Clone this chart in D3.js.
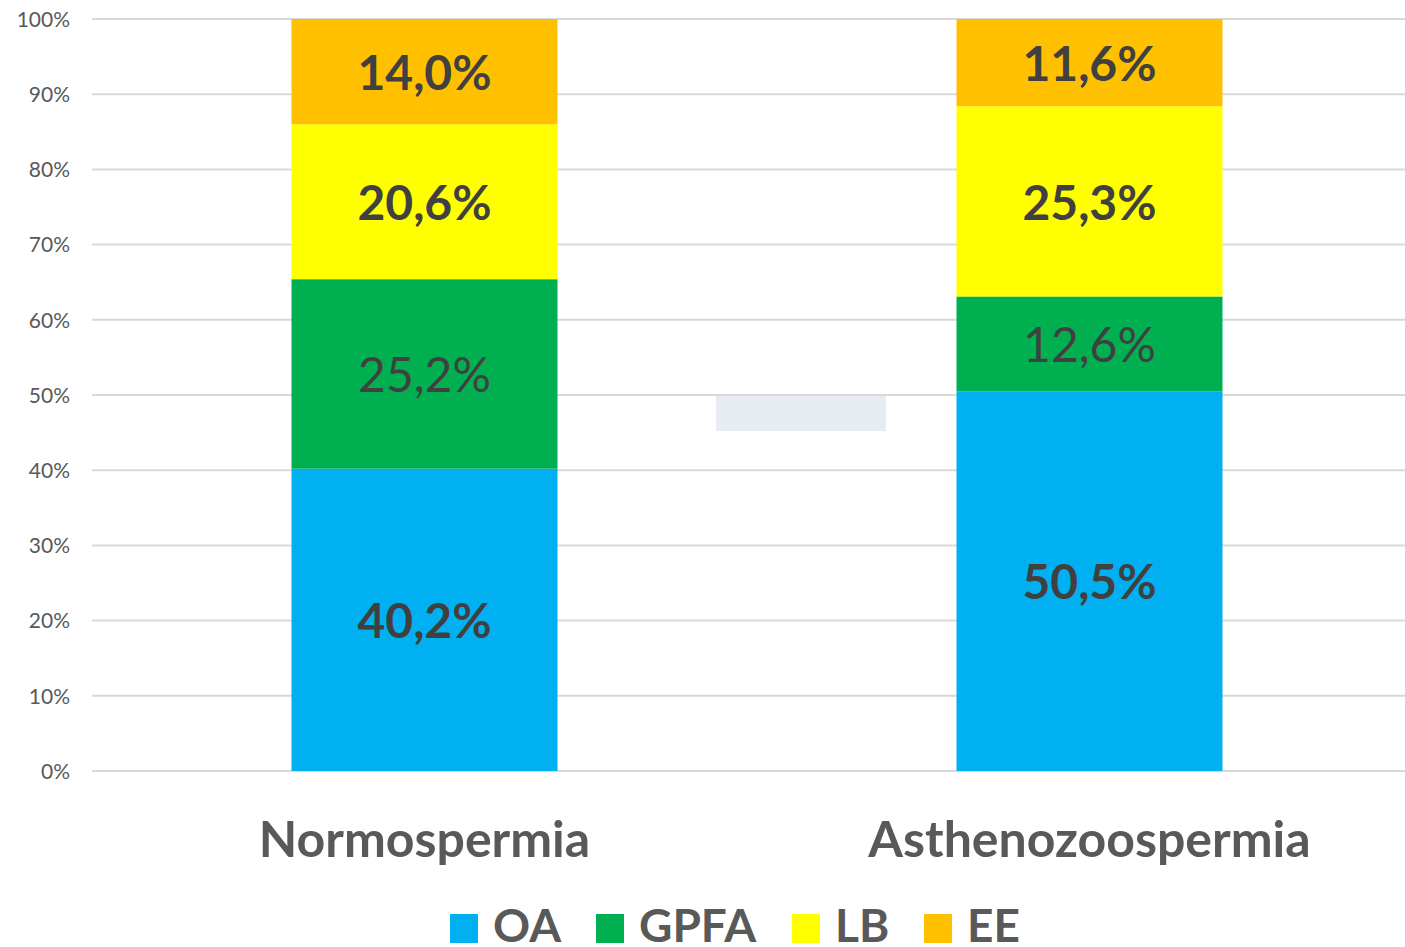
<!DOCTYPE html>
<html>
<head>
<meta charset="utf-8">
<script src="https://cdn.jsdelivr.net/npm/d3@7"></script>
<style>
  html, body { margin: 0; padding: 0; background: #fff; }
  svg { display: block; }
  text { font-family: Lato, "Open Sans", sans-serif; }
</style>
</head>
<body>
<svg id="chart" width="1405" height="947"></svg>
<script>
// Sperm groups on the x axis
const categories = ["Normospermia", "Asthenozoospermia"];
// Stacked series, bottom to top (percent of total)
const seriesNames = ["OA", "GPFA", "LB", "EE"];
const oaValues   = [40.2, 50.5];
const gpfaValues = [25.2, 12.6];
const lbValues   = [20.6, 25.3];
const eeValues   = [14.0, 11.6];
const seriesColors = ["#00B0F0", "#00B050", "#FFFF00", "#FFC000"];
const labelBold = [true, false, true, true];
const yTicks = [0, 10, 20, 30, 40, 50, 60, 70, 80, 90, 100];

const rows = categories.map((c, i) => ({
  category: c,
  OA: oaValues[i], GPFA: gpfaValues[i], LB: lbValues[i], EE: eeValues[i]
}));

const svg = d3.select("#chart");
const plotLeft = 92, plotRight = 1422, plotTop = 19, plotBottom = 771;

const x = d3.scaleBand().domain(categories).range([plotLeft, plotRight])
  .paddingInner(0.6).paddingOuter(0.3);
const y = d3.scaleLinear().domain([0, 100]).range([plotBottom, plotTop]);

// Gridlines
svg.append("g").selectAll("line").data(yTicks).join("line")
  .attr("x1", plotLeft).attr("x2", 1405)
  .attr("y1", d => y(d)).attr("y2", d => y(d))
  .attr("stroke", "#D9D9D9").attr("stroke-width", 2);

// Y axis tick labels
const yAxis = d3.axisLeft(y).tickValues(yTicks).tickFormat(d => d + "%").tickSize(0).tickPadding(0);
const yg = svg.append("g").attr("transform", `translate(70,0)`).call(yAxis);
yg.select(".domain").remove();
yg.selectAll("text")
  .attr("fill", "#595959").attr("font-size", 21)
  .attr("font-family", "Lato, sans-serif").attr("dy", "0.35em");

// Stacked bars
const stacked = d3.stack().keys(seriesNames)(rows);

const layers = svg.append("g").selectAll("g").data(stacked).join("g")
  .attr("fill", (d, i) => seriesColors[i]);

layers.selectAll("rect").data(d => d).join("rect")
  .attr("x", d => x(d.data.category))
  .attr("width", x.bandwidth())
  .attr("y", d => y(d[1]))
  .attr("height", d => y(d[0]) - y(d[1]));

// Value labels centred in each segment
const fmt = v => v.toFixed(1).replace(".", ",") + "%";
svg.append("g").selectAll("g").data(stacked).join("g")
  .each(function(layer, li) {
    d3.select(this).selectAll("text").data(layer).join("text")
      .attr("x", d => x(d.data.category) + x.bandwidth() / 2)
      .attr("y", d => y((d[0] + d[1]) / 2))
      .attr("dy", "0.38em")
      .attr("text-anchor", "middle")
      .attr("font-size", 48)
      .attr("font-weight", labelBold[li] ? 700 : 400)
      .attr("fill", "#404040")
      .text(d => fmt(d[1] - d[0]));
  });

// Category labels
const xAxis = d3.axisBottom(x).tickSize(0).tickPadding(0);
const xg = svg.append("g").attr("transform", `translate(0,857)`).call(xAxis);
xg.select(".domain").remove();
xg.selectAll("text")
  .attr("dy", 0).attr("y", 0)
  .attr("fill", "#595959").attr("font-size", 50).attr("font-weight", 700)
  .attr("font-family", "Lato, sans-serif");

// Light panel between the bars
svg.append("rect")
  .attr("x", 716).attr("y", y(50) + 1)
  .attr("width", 170).attr("height", y(45.2) - y(50) - 1)
  .attr("fill", "#E7ECF3");

// Legend
const legendX = [450, 596, 792, 924];
const lg = svg.append("g").selectAll("g").data(seriesNames).join("g")
  .attr("transform", (d, i) => `translate(${legendX[i]},914)`);
lg.append("rect").attr("width", 28).attr("height", 29)
  .attr("fill", (d, i) => seriesColors[i]);
lg.append("text").attr("x", 43).attr("y", 28)
  .attr("fill", "#595959").attr("font-size", 46).attr("font-weight", 700)
  .text(d => d);
</script>
</body>
</html>
